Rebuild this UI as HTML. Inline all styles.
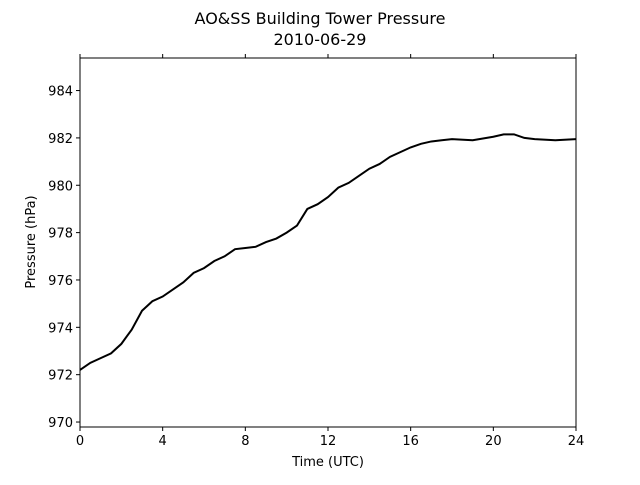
<!DOCTYPE html>
<html><head><meta charset="utf-8"><style>
body{margin:0;background:#fff;}
svg text{font-family:"DejaVu Sans","Liberation Sans",sans-serif;fill:#000;}
</style></head><body>
<svg width="640" height="480" xmlns="http://www.w3.org/2000/svg">
<text x="320" y="24" font-size="16" text-anchor="middle">AO&amp;SS Building Tower Pressure</text>
<text x="320" y="45" font-size="16" text-anchor="middle">2010-06-29</text>
<g id="axes"></g>
<text x="328" y="466" font-size="13" text-anchor="middle">Time (UTC)</text>
<text transform="translate(35,242) rotate(-90)" font-size="13" text-anchor="middle">Pressure (hPa)</text>
</svg>
<script>
const times=[0,0.5,1,1.5,2,2.5,3,3.5,4,4.5,5,5.5,6,6.5,7,7.5,8,8.5,9,9.5,10,10.5,11,11.5,12,12.5,13,13.5,14,14.5,15,15.5,16,16.5,17,17.5,18,19,20,20.5,21,21.5,22,23,24];
const pressure=[972.2,972.5,972.7,972.9,973.3,973.9,974.7,975.1,975.3,975.6,975.9,976.3,976.5,976.8,977.0,977.3,977.35,977.4,977.6,977.75,978.0,978.3,979.0,979.2,979.5,979.9,980.1,980.4,980.7,980.9,981.2,981.4,981.6,981.75,981.85,981.9,981.95,981.9,982.05,982.15,982.15,982.0,981.95,981.9,981.95];
const xTicks=[0,4,8,12,16,20,24];
const yTicks=[970,972,974,976,978,980,982,984];
const L=80,R=576,T=58,B=427,x0=0,x1=24,y0=969.79,y1=985.375;
const sx=v=>L+(v-x0)/(x1-x0)*(R-L);
const sy=v=>B-(v-y0)/(y1-y0)*(B-T);
const NS="http://www.w3.org/2000/svg";
const g=document.getElementById('axes');
function mk(tag,attrs){const e=document.createElementNS(NS,tag);for(const k in attrs)e.setAttribute(k,attrs[k]);g.appendChild(e);return e;}
const line=mk('polyline',{points:times.map((t,i)=>sx(t)+','+sy(pressure[i])).join(' '),fill:'none',stroke:'#000','stroke-width':2});


const frame=mk('rect',{x:L,y:T,width:R-L,height:B-T,fill:'none',stroke:'#000','stroke-width':1});


xTicks.forEach(v=>{
 const x=sx(v);
 mk('line',{x1:x,x2:x,y1:B,y2:B+4,stroke:'#000'});
 mk('line',{x1:x,x2:x,y1:T,y2:T-4,stroke:'#000'});
 const t=mk('text',{x:x,y:B+18,'font-size':13,'text-anchor':'middle'});t.textContent=v;
 
 
});
yTicks.forEach(v=>{
 const y=sy(v);
 mk('line',{x1:L,x2:L-4,y1:y,y2:y,stroke:'#000'});
 const t=mk('text',{x:L-7,y:y+5,'font-size':13,'text-anchor':'end'});t.textContent=v;
 
 
});
</script>
</body></html>
